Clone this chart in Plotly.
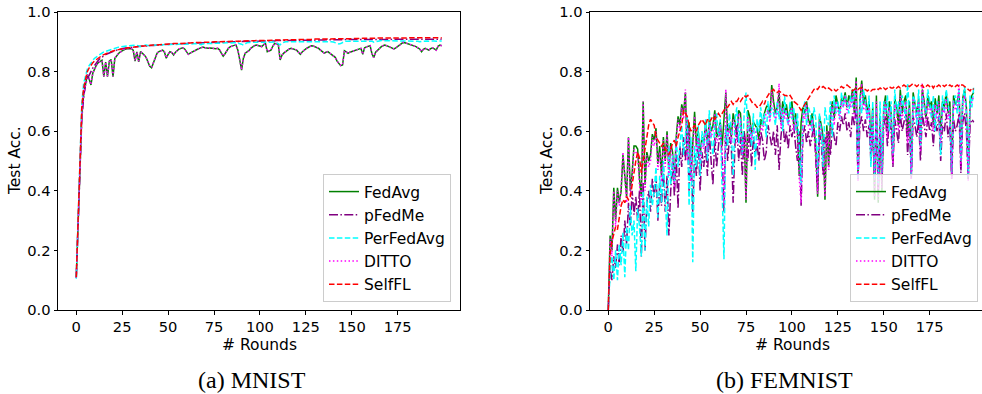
import plotly.graph_objects as go

W, H = 982, 394

rounds = list(range(200))
methods = ["FedAvg", "pFedMe", "PerFedAvg", "DITTO", "SelfFL"]
x_ticks = [0, 25, 50, 75, 100, 125, 150, 175]
y_ticks = [0.0, 0.2, 0.4, 0.6, 0.8, 1.0]
y_tick_labels = ["0.0", "0.2", "0.4", "0.6", "0.8", "1.0"]
captions = ["(a) MNIST", "(b) FEMNIST"]

# ---------------- MNIST ----------------
mnist_fedavg = [
    0.108, 0.300, 0.500, 0.650, 0.720, 0.760, 0.790, 0.775, 0.755, 0.795,
    0.810, 0.822, 0.830, 0.835, 0.838, 0.783, 0.832, 0.783, 0.835, 0.840,
    0.783, 0.845, 0.855, 0.861, 0.866, 0.870, 0.873, 0.876, 0.877, 0.878,
    0.877, 0.872, 0.835, 0.866, 0.833, 0.867, 0.862, 0.856, 0.848, 0.835,
    0.818, 0.813, 0.830, 0.850, 0.862, 0.867, 0.870, 0.872, 0.866, 0.845,
    0.858, 0.867, 0.864, 0.856, 0.865, 0.872, 0.876, 0.878, 0.880, 0.876,
    0.866, 0.858, 0.862, 0.866, 0.867, 0.871, 0.875, 0.878, 0.880, 0.882,
    0.880, 0.878, 0.878, 0.879, 0.878, 0.878, 0.877, 0.878, 0.873, 0.862,
    0.852, 0.860, 0.872, 0.880, 0.884, 0.887, 0.888, 0.889, 0.872, 0.840,
    0.805, 0.845, 0.862, 0.866, 0.870, 0.878, 0.884, 0.887, 0.889, 0.888,
    0.886, 0.884, 0.890, 0.895, 0.867, 0.870, 0.872, 0.885, 0.895, 0.893,
    0.892, 0.839, 0.855, 0.862, 0.867, 0.872, 0.876, 0.878, 0.876, 0.873,
    0.872, 0.865, 0.858, 0.866, 0.872, 0.876, 0.880, 0.884, 0.887, 0.886,
    0.883, 0.880, 0.878, 0.872, 0.866, 0.862, 0.865, 0.867, 0.862, 0.857,
    0.852, 0.848, 0.835, 0.828, 0.820, 0.822, 0.870, 0.866, 0.861, 0.865,
    0.867, 0.870, 0.872, 0.874, 0.876, 0.878, 0.858, 0.880, 0.883, 0.886,
    0.887, 0.860, 0.847, 0.865, 0.872, 0.878, 0.883, 0.887, 0.889, 0.887,
    0.884, 0.881, 0.878, 0.876, 0.880, 0.884, 0.890, 0.895, 0.898, 0.897,
    0.895, 0.893, 0.891, 0.889, 0.887, 0.884, 0.880, 0.876, 0.867, 0.875,
    0.878, 0.875, 0.872, 0.877, 0.880, 0.876, 0.872, 0.885, 0.889, 0.887,
]
mnist_pfedme = [
    0.110, 0.300, 0.490, 0.640, 0.715, 0.755, 0.775, 0.790, 0.800, 0.812,
    0.822, 0.830, 0.838, 0.844, 0.849, 0.853, 0.857, 0.860, 0.863, 0.866,
    0.868, 0.870, 0.872, 0.874, 0.876, 0.877, 0.878, 0.879, 0.880, 0.881,
    0.882, 0.882, 0.883, 0.884, 0.884, 0.885, 0.885, 0.886, 0.886, 0.887,
    0.887, 0.888, 0.888, 0.889, 0.889, 0.889, 0.890, 0.890, 0.891, 0.891,
    0.891, 0.892, 0.892, 0.892, 0.893, 0.893, 0.893, 0.894, 0.894, 0.894,
    0.894, 0.895, 0.895, 0.895, 0.895, 0.896, 0.896, 0.896, 0.896, 0.897,
    0.897, 0.897, 0.897, 0.898, 0.898, 0.898, 0.898, 0.898, 0.899, 0.899,
    0.899, 0.899, 0.899, 0.900, 0.900, 0.900, 0.900, 0.900, 0.900, 0.901,
    0.901, 0.901, 0.901, 0.901, 0.901, 0.902, 0.902, 0.902, 0.902, 0.902,
    0.902, 0.902, 0.903, 0.903, 0.903, 0.903, 0.903, 0.903, 0.903, 0.904,
    0.904, 0.904, 0.904, 0.904, 0.904, 0.904, 0.904, 0.905, 0.905, 0.905,
    0.905, 0.905, 0.905, 0.905, 0.905, 0.905, 0.906, 0.906, 0.906, 0.906,
    0.906, 0.906, 0.906, 0.906, 0.906, 0.906, 0.907, 0.907, 0.907, 0.907,
    0.907, 0.907, 0.907, 0.907, 0.907, 0.907, 0.907, 0.907, 0.908, 0.908,
    0.908, 0.908, 0.908, 0.908, 0.908, 0.908, 0.908, 0.908, 0.908, 0.908,
    0.908, 0.908, 0.909, 0.909, 0.909, 0.909, 0.909, 0.909, 0.909, 0.909,
    0.909, 0.909, 0.909, 0.909, 0.909, 0.909, 0.909, 0.909, 0.909, 0.909,
    0.909, 0.909, 0.909, 0.909, 0.909, 0.909, 0.909, 0.909, 0.909, 0.909,
    0.909, 0.909, 0.909, 0.909, 0.909, 0.909, 0.909, 0.909, 0.909, 0.909,
]
mnist_perfedavg = [
    0.105, 0.320, 0.530, 0.690, 0.760, 0.790, 0.808, 0.820, 0.830, 0.838,
    0.845, 0.850, 0.855, 0.859, 0.862, 0.866, 0.868, 0.871, 0.873, 0.876,
    0.877, 0.879, 0.880, 0.882, 0.883, 0.884, 0.885, 0.886, 0.887, 0.887,
    0.888, 0.888, 0.889, 0.888, 0.885, 0.884, 0.887, 0.889, 0.889, 0.888,
    0.886, 0.888, 0.889, 0.889, 0.890, 0.890, 0.889, 0.890, 0.891, 0.891,
    0.890, 0.891, 0.891, 0.892, 0.891, 0.892, 0.892, 0.893, 0.892, 0.893,
    0.893, 0.893, 0.892, 0.893, 0.894, 0.894, 0.893, 0.892, 0.890, 0.893,
    0.894, 0.894, 0.895, 0.895, 0.894, 0.895, 0.895, 0.896, 0.895, 0.896,
    0.896, 0.896, 0.897, 0.896, 0.897, 0.897, 0.897, 0.897, 0.896, 0.894,
    0.892, 0.889, 0.894, 0.897, 0.898, 0.898, 0.898, 0.898, 0.899, 0.899,
    0.898, 0.899, 0.899, 0.899, 0.899, 0.899, 0.900, 0.900, 0.899, 0.897,
    0.893, 0.890, 0.896, 0.899, 0.900, 0.900, 0.900, 0.900, 0.900, 0.901,
    0.901, 0.901, 0.900, 0.901, 0.901, 0.901, 0.901, 0.902, 0.901, 0.902,
    0.902, 0.902, 0.901, 0.902, 0.902, 0.902, 0.902, 0.902, 0.901, 0.900,
    0.899, 0.897, 0.895, 0.893, 0.894, 0.898, 0.901, 0.902, 0.902, 0.903,
    0.903, 0.903, 0.903, 0.902, 0.903, 0.903, 0.903, 0.903, 0.903, 0.903,
    0.903, 0.902, 0.899, 0.901, 0.903, 0.903, 0.904, 0.904, 0.904, 0.904,
    0.903, 0.904, 0.904, 0.904, 0.904, 0.904, 0.904, 0.904, 0.904, 0.904,
    0.904, 0.904, 0.904, 0.904, 0.903, 0.903, 0.902, 0.900, 0.901, 0.903,
    0.903, 0.903, 0.902, 0.903, 0.903, 0.903, 0.902, 0.903, 0.903, 0.903,
]
mnist_ditto = [
    0.109, 0.300, 0.500, 0.651, 0.721, 0.761, 0.789, 0.776, 0.756, 0.794,
    0.811, 0.822, 0.829, 0.835, 0.837, 0.784, 0.832, 0.784, 0.834, 0.840,
    0.784, 0.846, 0.855, 0.861, 0.866, 0.870, 0.874, 0.876, 0.877, 0.878,
    0.877, 0.872, 0.836, 0.866, 0.834, 0.867, 0.862, 0.856, 0.848, 0.835,
    0.818, 0.814, 0.830, 0.850, 0.862, 0.867, 0.870, 0.872, 0.866, 0.846,
    0.858, 0.867, 0.864, 0.856, 0.865, 0.872, 0.876, 0.878, 0.880, 0.876,
    0.866, 0.858, 0.862, 0.866, 0.867, 0.871, 0.875, 0.878, 0.880, 0.882,
    0.880, 0.878, 0.878, 0.879, 0.878, 0.878, 0.877, 0.878, 0.873, 0.862,
    0.852, 0.860, 0.872, 0.880, 0.884, 0.887, 0.888, 0.889, 0.872, 0.840,
    0.806, 0.845, 0.862, 0.866, 0.870, 0.878, 0.884, 0.887, 0.889, 0.888,
    0.886, 0.884, 0.890, 0.895, 0.867, 0.870, 0.872, 0.885, 0.895, 0.893,
    0.892, 0.840, 0.855, 0.862, 0.867, 0.872, 0.876, 0.878, 0.876, 0.873,
    0.872, 0.865, 0.858, 0.866, 0.872, 0.876, 0.880, 0.884, 0.887, 0.886,
    0.883, 0.880, 0.878, 0.872, 0.866, 0.862, 0.865, 0.867, 0.862, 0.857,
    0.852, 0.848, 0.835, 0.828, 0.821, 0.822, 0.870, 0.866, 0.861, 0.865,
    0.867, 0.870, 0.872, 0.874, 0.876, 0.878, 0.858, 0.880, 0.883, 0.886,
    0.887, 0.860, 0.847, 0.865, 0.872, 0.878, 0.883, 0.887, 0.889, 0.887,
    0.884, 0.881, 0.878, 0.876, 0.880, 0.884, 0.890, 0.895, 0.898, 0.897,
    0.895, 0.893, 0.891, 0.889, 0.887, 0.884, 0.880, 0.876, 0.867, 0.875,
    0.878, 0.875, 0.872, 0.877, 0.880, 0.876, 0.872, 0.885, 0.889, 0.887,
]
mnist_selffl = [
    0.110, 0.310, 0.510, 0.680, 0.745, 0.778, 0.800, 0.812, 0.822, 0.830,
    0.836, 0.841, 0.846, 0.850, 0.854, 0.857, 0.860, 0.863, 0.865, 0.867,
    0.869, 0.871, 0.873, 0.874, 0.876, 0.877, 0.878, 0.879, 0.880, 0.881,
    0.882, 0.882, 0.883, 0.884, 0.884, 0.885, 0.886, 0.886, 0.887, 0.887,
    0.888, 0.888, 0.889, 0.889, 0.890, 0.890, 0.891, 0.891, 0.892, 0.892,
    0.893, 0.893, 0.893, 0.894, 0.894, 0.894, 0.895, 0.895, 0.895, 0.896,
    0.896, 0.896, 0.896, 0.897, 0.897, 0.897, 0.897, 0.898, 0.898, 0.898,
    0.898, 0.899, 0.899, 0.899, 0.899, 0.900, 0.900, 0.900, 0.900, 0.900,
    0.901, 0.901, 0.901, 0.901, 0.901, 0.902, 0.902, 0.902, 0.902, 0.902,
    0.903, 0.903, 0.903, 0.903, 0.903, 0.903, 0.904, 0.904, 0.904, 0.904,
    0.904, 0.904, 0.905, 0.905, 0.905, 0.905, 0.905, 0.905, 0.906, 0.906,
    0.906, 0.906, 0.906, 0.906, 0.906, 0.907, 0.907, 0.907, 0.907, 0.907,
    0.907, 0.907, 0.908, 0.908, 0.908, 0.908, 0.908, 0.908, 0.908, 0.909,
    0.909, 0.909, 0.909, 0.909, 0.909, 0.909, 0.909, 0.910, 0.910, 0.910,
    0.910, 0.910, 0.910, 0.910, 0.910, 0.910, 0.911, 0.911, 0.911, 0.911,
    0.911, 0.911, 0.911, 0.911, 0.911, 0.911, 0.912, 0.912, 0.912, 0.912,
    0.912, 0.912, 0.912, 0.912, 0.912, 0.912, 0.912, 0.913, 0.913, 0.913,
    0.913, 0.913, 0.913, 0.913, 0.913, 0.913, 0.913, 0.913, 0.913, 0.914,
    0.914, 0.914, 0.913, 0.914, 0.914, 0.914, 0.913, 0.914, 0.914, 0.914,
    0.914, 0.914, 0.913, 0.914, 0.914, 0.914, 0.914, 0.914, 0.914, 0.914,
]

# ---------------- FEMNIST ----------------
femnist_fedavg = [
    0.00, 0.25, 0.20, 0.41, 0.30, 0.41, 0.36, 0.40, 0.52, 0.45,
    0.38, 0.58, 0.40, 0.46, 0.55, 0.55, 0.54, 0.44, 0.38, 0.70,
    0.42, 0.53, 0.50, 0.52, 0.59, 0.57, 0.61, 0.49, 0.55, 0.45,
    0.58, 0.50, 0.60, 0.47, 0.56, 0.53, 0.43, 0.58, 0.65, 0.62,
    0.69, 0.66, 0.73, 0.52, 0.63, 0.45, 0.58, 0.665, 0.55, 0.60,
    0.52, 0.58, 0.56, 0.63, 0.55, 0.64, 0.60, 0.62, 0.67, 0.58,
    0.60, 0.63, 0.55, 0.64, 0.73, 0.60, 0.62, 0.58, 0.66, 0.63,
    0.58, 0.67, 0.66, 0.54, 0.60, 0.36, 0.67, 0.65, 0.59, 0.63,
    0.62, 0.61, 0.57, 0.64, 0.62, 0.66, 0.68, 0.69, 0.65, 0.755,
    0.70, 0.66, 0.68, 0.73, 0.63, 0.70, 0.66, 0.69, 0.64, 0.67,
    0.70, 0.62, 0.66, 0.60, 0.45, 0.63, 0.68, 0.66, 0.70, 0.64,
    0.62, 0.66, 0.61, 0.55, 0.38, 0.65, 0.62, 0.58, 0.37, 0.62,
    0.48, 0.65, 0.70, 0.64, 0.72, 0.69, 0.66, 0.71, 0.70, 0.73,
    0.68, 0.72, 0.70, 0.74, 0.66, 0.78, 0.45, 0.70, 0.77, 0.69,
    0.72, 0.66, 0.70, 0.55, 0.68, 0.37, 0.72, 0.36, 0.65, 0.40,
    0.68, 0.72, 0.60, 0.70, 0.66, 0.50, 0.71, 0.68, 0.62, 0.74,
    0.66, 0.70, 0.72, 0.58, 0.70, 0.45, 0.73, 0.69, 0.66, 0.71,
    0.55, 0.74, 0.70, 0.64, 0.72, 0.68, 0.70, 0.62, 0.71, 0.66,
    0.72, 0.58, 0.70, 0.68, 0.73, 0.66, 0.70, 0.45, 0.72, 0.69,
    0.70, 0.73, 0.50, 0.71, 0.74, 0.68, 0.44, 0.70, 0.72, 0.73,
]
femnist_pfedme = [
    0.00, 0.14, 0.10, 0.18, 0.14, 0.22, 0.15, 0.25, 0.19, 0.30,
    0.22, 0.36, 0.28, 0.40, 0.32, 0.38, 0.30, 0.40, 0.18, 0.43,
    0.20, 0.36, 0.40, 0.33, 0.44, 0.38, 0.45, 0.30, 0.42, 0.35,
    0.48, 0.33, 0.45, 0.25, 0.40, 0.50, 0.38, 0.52, 0.34, 0.55,
    0.48, 0.58, 0.50, 0.64, 0.40, 0.55, 0.33, 0.52, 0.45, 0.58,
    0.40, 0.53, 0.48, 0.55, 0.45, 0.60, 0.50, 0.42, 0.58, 0.48,
    0.55, 0.60, 0.52, 0.33, 0.62, 0.50, 0.58, 0.55, 0.36, 0.56,
    0.62, 0.50, 0.58, 0.45, 0.60, 0.55, 0.50, 0.62, 0.48, 0.58,
    0.52, 0.56, 0.50, 0.60, 0.57, 0.50, 0.53, 0.62, 0.58, 0.55,
    0.60, 0.52, 0.62, 0.47, 0.58, 0.64, 0.56, 0.60, 0.54, 0.62,
    0.58, 0.62, 0.55, 0.50, 0.60, 0.35, 0.58, 0.62, 0.56, 0.60,
    0.55, 0.58, 0.62, 0.50, 0.40, 0.60, 0.56, 0.45, 0.58, 0.55,
    0.60, 0.52, 0.62, 0.58, 0.55, 0.63, 0.60, 0.65, 0.62, 0.66,
    0.60, 0.63, 0.58, 0.66, 0.62, 0.68, 0.44, 0.62, 0.65, 0.60,
    0.64, 0.58, 0.62, 0.50, 0.60, 0.44, 0.63, 0.40, 0.60, 0.45,
    0.62, 0.65, 0.55, 0.63, 0.60, 0.48, 0.64, 0.60, 0.56, 0.66,
    0.60, 0.63, 0.66, 0.52, 0.62, 0.44, 0.65, 0.62, 0.58, 0.64,
    0.50, 0.66, 0.62, 0.58, 0.65, 0.60, 0.63, 0.55, 0.64, 0.60,
    0.65, 0.50, 0.62, 0.60, 0.66, 0.58, 0.62, 0.44, 0.64, 0.60,
    0.62, 0.66, 0.46, 0.63, 0.66, 0.60, 0.44, 0.62, 0.64, 0.63,
]
femnist_perfedavg = [
    0.00, 0.12, 0.18, 0.10, 0.20, 0.10, 0.22, 0.15, 0.26, 0.11,
    0.28, 0.20, 0.35, 0.25, 0.30, 0.13, 0.34, 0.28, 0.18, 0.40,
    0.20, 0.38, 0.28, 0.42, 0.35, 0.40, 0.48, 0.31, 0.45, 0.36,
    0.50, 0.38, 0.25, 0.55, 0.42, 0.52, 0.43, 0.58, 0.48, 0.55,
    0.62, 0.52, 0.60, 0.65, 0.35, 0.58, 0.16, 0.55, 0.48, 0.62,
    0.45, 0.60, 0.55, 0.64, 0.50, 0.67, 0.58, 0.52, 0.62, 0.66,
    0.58, 0.64, 0.40, 0.17, 0.62, 0.55, 0.66, 0.60, 0.45, 0.64,
    0.68, 0.56, 0.64, 0.52, 0.66, 0.73, 0.60, 0.62, 0.55, 0.66,
    0.47, 0.64, 0.60, 0.68, 0.62, 0.66, 0.58, 0.70, 0.64, 0.68,
    0.66, 0.62, 0.70, 0.64, 0.68, 0.60, 0.72, 0.65, 0.62, 0.70,
    0.64, 0.68, 0.60, 0.66, 0.55, 0.42, 0.65, 0.70, 0.62, 0.68,
    0.66, 0.60, 0.68, 0.64, 0.45, 0.66, 0.60, 0.48, 0.68, 0.64,
    0.62, 0.70, 0.58, 0.72, 0.66, 0.70, 0.64, 0.73, 0.68, 0.72,
    0.70, 0.66, 0.72, 0.68, 0.74, 0.70, 0.44, 0.72, 0.66, 0.74,
    0.70, 0.64, 0.72, 0.48, 0.70, 0.44, 0.68, 0.42, 0.70, 0.46,
    0.70, 0.66, 0.72, 0.60, 0.70, 0.52, 0.74, 0.66, 0.70, 0.64,
    0.72, 0.68, 0.64, 0.76, 0.66, 0.45, 0.72, 0.70, 0.62, 0.74,
    0.55, 0.72, 0.68, 0.66, 0.74, 0.70, 0.64, 0.72, 0.60, 0.70,
    0.68, 0.52, 0.72, 0.66, 0.74, 0.70, 0.64, 0.46, 0.70, 0.72,
    0.66, 0.74, 0.50, 0.70, 0.75, 0.66, 0.45, 0.72, 0.68, 0.75,
]
femnist_ditto = [
    0.00, 0.24, 0.18, 0.40, 0.28, 0.40, 0.35, 0.41, 0.53, 0.44,
    0.36, 0.58, 0.38, 0.45, 0.54, 0.53, 0.52, 0.42, 0.36, 0.70,
    0.40, 0.52, 0.48, 0.50, 0.58, 0.55, 0.60, 0.47, 0.53, 0.43,
    0.57, 0.48, 0.59, 0.45, 0.55, 0.51, 0.41, 0.57, 0.64, 0.60,
    0.68, 0.64, 0.74, 0.50, 0.61, 0.43, 0.56, 0.65, 0.53, 0.58,
    0.50, 0.56, 0.54, 0.61, 0.53, 0.62, 0.58, 0.60, 0.66, 0.56,
    0.58, 0.62, 0.53, 0.35, 0.74, 0.58, 0.61, 0.56, 0.64, 0.61,
    0.56, 0.66, 0.64, 0.52, 0.58, 0.37, 0.65, 0.63, 0.57, 0.61,
    0.60, 0.59, 0.55, 0.62, 0.60, 0.64, 0.66, 0.67, 0.63, 0.74,
    0.68, 0.64, 0.66, 0.76, 0.61, 0.68, 0.64, 0.67, 0.62, 0.65,
    0.68, 0.60, 0.64, 0.58, 0.44, 0.36, 0.66, 0.64, 0.69, 0.62,
    0.60, 0.64, 0.59, 0.53, 0.39, 0.63, 0.60, 0.56, 0.38, 0.60,
    0.47, 0.63, 0.69, 0.62, 0.70, 0.67, 0.64, 0.70, 0.68, 0.72,
    0.66, 0.70, 0.68, 0.73, 0.64, 0.77, 0.43, 0.68, 0.76, 0.67,
    0.70, 0.64, 0.68, 0.53, 0.66, 0.38, 0.70, 0.37, 0.63, 0.41,
    0.66, 0.70, 0.58, 0.68, 0.64, 0.49, 0.69, 0.66, 0.60, 0.72,
    0.64, 0.68, 0.70, 0.56, 0.68, 0.44, 0.71, 0.67, 0.64, 0.70,
    0.53, 0.76, 0.68, 0.62, 0.70, 0.66, 0.68, 0.60, 0.69, 0.64,
    0.70, 0.56, 0.68, 0.66, 0.71, 0.64, 0.68, 0.44, 0.70, 0.67,
    0.68, 0.76, 0.48, 0.69, 0.72, 0.66, 0.43, 0.68, 0.70, 0.72,
]
femnist_selffl = [
    0.00, 0.19, 0.23, 0.26, 0.28, 0.27, 0.32, 0.35, 0.37, 0.36,
    0.38, 0.37, 0.38, 0.42, 0.47, 0.50, 0.53, 0.51, 0.46, 0.50,
    0.55, 0.58, 0.62, 0.64, 0.63, 0.62, 0.58, 0.57, 0.56, 0.55,
    0.56, 0.54, 0.53, 0.52, 0.54, 0.56, 0.57, 0.55, 0.58, 0.60,
    0.62, 0.67, 0.66, 0.65, 0.62, 0.60, 0.61, 0.62, 0.60, 0.62,
    0.63, 0.64, 0.63, 0.62, 0.64, 0.63, 0.64, 0.65, 0.64, 0.65,
    0.66, 0.65, 0.66, 0.67, 0.68, 0.68, 0.69, 0.70, 0.69, 0.70,
    0.70, 0.71, 0.70, 0.71, 0.72, 0.715, 0.72, 0.71, 0.70, 0.69,
    0.69, 0.68, 0.68, 0.69, 0.70, 0.69, 0.71, 0.72, 0.73, 0.735,
    0.74, 0.73, 0.73, 0.735, 0.73, 0.725, 0.72, 0.72, 0.715, 0.72,
    0.71, 0.70, 0.695, 0.69, 0.68, 0.67, 0.68, 0.69, 0.70, 0.71,
    0.72, 0.73, 0.74, 0.745, 0.74, 0.75, 0.745, 0.75, 0.745, 0.74,
    0.745, 0.74, 0.735, 0.74, 0.735, 0.74, 0.745, 0.75, 0.745, 0.75,
    0.755, 0.75, 0.745, 0.735, 0.74, 0.745, 0.74, 0.745, 0.745, 0.74,
    0.74, 0.735, 0.74, 0.735, 0.74, 0.74, 0.745, 0.74, 0.745, 0.74,
    0.745, 0.74, 0.745, 0.75, 0.745, 0.745, 0.75, 0.745, 0.75, 0.745,
    0.75, 0.755, 0.75, 0.755, 0.75, 0.755, 0.76, 0.755, 0.75, 0.755,
    0.75, 0.755, 0.745, 0.75, 0.755, 0.75, 0.755, 0.745, 0.755, 0.75,
    0.755, 0.75, 0.755, 0.75, 0.755, 0.75, 0.755, 0.75, 0.755, 0.75,
    0.755, 0.75, 0.755, 0.755, 0.75, 0.745, 0.74, 0.735, 0.745, 0.74,
]

mnist_series = [mnist_fedavg, mnist_pfedme, mnist_perfedavg, mnist_ditto, mnist_selffl]
femnist_series = [femnist_fedavg, femnist_pfedme, femnist_perfedavg, femnist_ditto, femnist_selffl]

colors = ["#008000", "#800080", "#00ffff", "#ff00ff", "#ff0000"]
dashes = ["solid", "9px,2.4px,1.5px,2.4px", "5.5px,2.4px", "1.5px,2.4px", "5.5px,2.4px"]

FONT = "DejaVu Sans"

def px(x):
    return x / W

def py(y):
    return 1 - y / H

fig = go.Figure()

for k, (series_set, xa, ya, lg) in enumerate([
    (mnist_series, "x", "y", "legend"),
    (femnist_series, "x2", "y2", "legend2"),
]):
    for i, name in enumerate(methods):
        fig.add_trace(go.Scatter(
            x=rounds, y=series_set[i], mode="lines", name=name,
            line=dict(color=colors[i], width=1.5, dash=dashes[i]),
            xaxis=xa, yaxis=ya, legend=lg,
            legendgroup=f"{k}-{i}",
        ))

axis_common = dict(
    showgrid=False, zeroline=False, showline=True, linecolor="black", linewidth=1,
    ticks="outside", ticklen=3.5, tickwidth=1, tickcolor="black",
    tickfont=dict(family=FONT, size=14.7, color="black"),
)

y_dom = [py(310), py(12)]
fig.update_layout(
    width=W, height=H,
    margin=dict(l=0, r=0, t=0, b=0, autoexpand=False),
    paper_bgcolor="white", plot_bgcolor="white",
    xaxis=dict(domain=[px(58), px(460)], range=[-9.95, 208.95], anchor="y",
               tickvals=x_ticks, mirror=True, **axis_common),
    yaxis=dict(domain=y_dom, range=[0, 1], anchor="x",
               tickvals=y_ticks, ticktext=y_tick_labels, mirror=True, **axis_common),
    xaxis2=dict(domain=[px(590), 1.0], range=[-9.95, 203.5], anchor="y2",
                tickvals=x_ticks, mirror=True, **axis_common),
    yaxis2=dict(domain=y_dom, range=[0, 1], anchor="x2",
                tickvals=y_ticks, ticktext=y_tick_labels, mirror=False, **axis_common),
    showlegend=True,
    legend=dict(x=px(451), y=py(302), xanchor="right", yanchor="bottom",
                bgcolor="rgba(255,255,255,0.8)", bordercolor="#cccccc", borderwidth=1,
                font=dict(family=FONT, size=15.5, color="black"), tracegroupgap=3,
                traceorder="normal"),
    legend2=dict(x=px(978), y=py(302), xanchor="right", yanchor="bottom",
                 bgcolor="rgba(255,255,255,0.8)", bordercolor="#cccccc", borderwidth=1,
                 font=dict(family=FONT, size=15.5, color="black"), tracegroupgap=3,
                 traceorder="normal"),
)

annots = [
    dict(text="# Rounds", x=px(259), y=py(345)),
    dict(text="# Rounds", x=px(792), y=py(345)),
    dict(text="Test Acc.", x=px(15), y=py(161), textangle=-90),
    dict(text="Test Acc.", x=px(547), y=py(161), textangle=-90),
]
for a in annots:
    fig.add_annotation(xref="paper", yref="paper", showarrow=False,
                       xanchor="center", yanchor="middle",
                       font=dict(family=FONT, size=15.5, color="black"), **a)
for cap, cx in zip(captions, [252, 784]):
    fig.add_annotation(xref="paper", yref="paper", showarrow=False, text=cap,
                       x=px(cx), y=py(380), xanchor="center", yanchor="middle",
                       font=dict(family="Liberation Serif", size=24, color="black"))

fig.write_html(
    "out.html",
    config={"displayModeBar": False},
    post_script="document.body.style.margin='0';document.body.style.overflow='hidden';",
)
